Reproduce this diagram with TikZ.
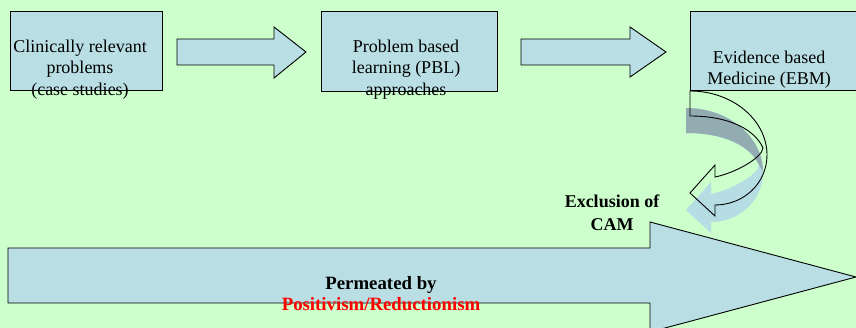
\documentclass[tikz,border=0pt]{standalone}
\usepackage{fontspec}
\setmainfont{Liberation Serif}
\definecolor{pagebg}{RGB}{204,255,204}
\definecolor{boxfill}{RGB}{185,223,228}
\definecolor{shadowdark}{RGB}{146,172,178}
\definecolor{shadowlight}{RGB}{183,221,228}
\newcommand\uturnoutline{%
  (690,91) .. controls (732.5,91) and (767,120) .. (767,155)
  .. controls (767,183) and (744,205) .. (715,205)
  -- (715,216) -- (690,193) -- (715,165) -- (715,177)
  .. controls (735,173) and (762,158) .. (763,148)
  .. controls (755,130) and (730,116) .. (690,116) -- cycle}
\newcommand\uturnrear{%
  (690,91) .. controls (732.5,91) and (767,120) .. (767,155)
  -- (763,148) .. controls (755,130) and (730,116) .. (690,116) -- cycle}
\begin{document}
\begin{tikzpicture}[x=1pt,y=-1pt,
  stagebox/.style={draw=black,line width=0.9pt,fill=boxfill,inner sep=0pt},
  blockarrow/.style={draw=black,line width=0.9pt,fill=boxfill,line join=miter},
  boxtext/.style={align=center,inner sep=0pt,font=\fontsize{18}{21.5}\selectfont},
  boldtext/.style={align=center,inner sep=0pt,font=\fontsize{18}{22.5}\selectfont\bfseries}]
  \useasboundingbox (0,0) rectangle (856,328);
  \clip (0,0) rectangle (856,328);
  \fill[pagebg] (0,0) rectangle (856,328);

  % three stages along the top
  \node[stagebox,minimum width=152pt,minimum height=79pt] (clin) at (86,50.5) {};
  \node[stagebox,minimum width=176pt,minimum height=80pt] (pbl) at (409,51) {};
  \node[stagebox,minimum width=190pt,minimum height=79pt] (ebm) at (785,50.5) {};

  \node[boxtext,anchor=north] (clintext) at (80,39.7)
    {Clinically relevant\\problems\\(case studies)};
  \node[boxtext,anchor=north] (pbltext) at (406,39.7)
    {Problem based\\learning (PBL)\\approaches};
  \node[boxtext,anchor=north] (ebmtext) at (769,50.7)
    {Evidence based\\Medicine (EBM)};

  % block arrows between the stages
  \draw[blockarrow] (177,39) -- (274,39) -- (274,27) -- (306,52)
    -- (274,78) -- (274,65) -- (177,65) -- cycle;
  \draw[blockarrow] (521,39) -- (630,39) -- (630,27) -- (666,52)
    -- (630,77) -- (630,65) -- (521,65) -- cycle;

  % shadow of the turning arrow
  \begin{scope}[shift={(-4,17)}]
    \fill[shadowlight] \uturnoutline;
    \fill[shadowdark] \uturnrear;
  \end{scope}
  % turning arrow below EBM
  \draw[line width=0.9pt,line join=miter] \uturnoutline;

  \node[boldtext,anchor=north] (cam) at (612,194.8) {Exclusion of\\CAM};

  % long arrow along the bottom
  \draw[blockarrow] (8,248) -- (650,248) -- (650,222) -- (856,277)
    -- (650,332) -- (650,303) -- (8,303) -- cycle;
  \node[boldtext,anchor=north,font=\fontsize{18.8}{21}\selectfont\bfseries] (perm) at (381,276.3)
    {Permeated by\\\textcolor{red}{Positivism/Reductionism}};
\end{tikzpicture}
\end{document}
